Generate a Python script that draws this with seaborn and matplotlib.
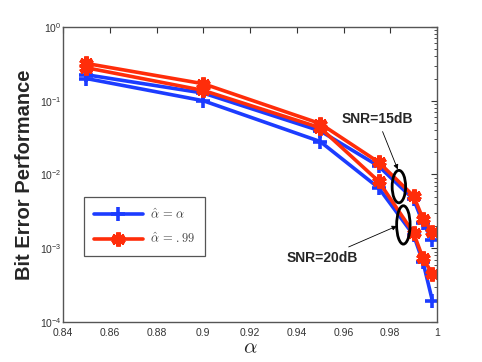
import numpy as np
import pandas as pd
import matplotlib
matplotlib.use('Agg')
import matplotlib.pyplot as plt
from matplotlib.patches import Ellipse
from matplotlib.font_manager import FontProperties
import seaborn as sns

# values
alpha = [0.85, 0.9, 0.95, 0.975, 0.99, 0.994, 0.998]
ber_blue_15 = [0.225, 0.127, 0.039, 0.013, 0.0046, 0.0022, 0.0013]
ber_blue_20 = [0.20, 0.10, 0.028, 0.0066, 0.0015, 0.00065, 0.000195]
ber_red_15 = [0.32, 0.17, 0.049, 0.0147, 0.0051, 0.0025, 0.00168]
ber_red_20 = [0.28, 0.138, 0.043, 0.0081, 0.0016, 0.00073, 0.00045]

labels = [r'$\hat{\alpha}\,=\,\alpha$', r'$\hat{\alpha}\,=\,{.}99$']
blue = '#1c3cff'
red = '#ff2d0a'

sns.set_style('white')
plt.rcParams['font.family'] = ['Liberation Sans', 'DejaVu Sans']
plt.rcParams['mathtext.fontset'] = 'custom'
plt.rcParams['mathtext.rm'] = 'Liberation Sans'
plt.rcParams['mathtext.it'] = 'Liberation Sans:italic'

fig = plt.figure(figsize=(4.82, 3.62), dpi=100)
ax = fig.add_axes([0.1307, 0.1105, 0.776, 0.815])

df = pd.DataFrame({'alpha': alpha, 'b15': ber_blue_15, 'b20': ber_blue_20,
                   'r15': ber_red_15, 'r20': ber_red_20})

blue_kw = dict(color=blue, lw=2.6, marker='+', markersize=10, mew=2.6,
               mec=blue, mfc=blue)
red_kw = dict(color=red, lw=2.6, marker=(6, 2, 0), markersize=10, mew=3.4,
              mec=red, mfc=red)

sns.lineplot(data=df, x='alpha', y='b15', ax=ax, label=labels[0], **blue_kw)
sns.lineplot(data=df, x='alpha', y='b20', ax=ax, **blue_kw)
sns.lineplot(data=df, x='alpha', y='r15', ax=ax, label=labels[1], **red_kw)
sns.lineplot(data=df, x='alpha', y='r20', ax=ax, **red_kw)

ax.set_yscale('log')
ax.set_xlim(0.84, 1.0)
ax.set_ylim(1e-4, 1)
ax.set_xticks(np.arange(0.84, 1.001, 0.02))
ax.set_xticklabels(['0.84', '0.86', '0.88', '0.9', '0.92', '0.94', '0.96', '0.98', '1'])
ax.tick_params(axis='both', which='both', direction='in', top=True, right=True,
               labelsize=7.5, colors='#333333')
ax.tick_params(axis='x', pad=4.5)
ax.tick_params(axis='y', pad=1)
ax.tick_params(which='major', length=4, width=0.8)
ax.tick_params(which='minor', length=2, width=0.6)
for s in ax.spines.values():
    s.set_color('#555555')
    s.set_linewidth(1.0)

ax.set_xlabel(r'$\alpha$', fontsize=15, math_fontfamily='cm', labelpad=0)
ax.set_ylabel('Bit Error Performance', fontsize=14.5, fontweight='bold', labelpad=4)

leg = ax.legend(loc='upper left', bbox_to_anchor=(0.056, 0.424), fancybox=False,
                edgecolor='#555555', framealpha=1, handlelength=3.9, labelspacing=0.85,
                handletextpad=0.6, borderpad=0.8, borderaxespad=0,
                prop=FontProperties(size=9, math_fontfamily='cm'))
leg.get_frame().set_linewidth(0.9)
for t in leg.get_texts():
    t.set_color('#444444')

# ellipses marking the SNR groups
ax.add_patch(Ellipse((0.898, 0.459), 0.036, 0.11, transform=ax.transAxes,
                     fill=False, ec='black', lw=2, zorder=5))
ax.add_patch(Ellipse((0.910, 0.329), 0.036, 0.13, transform=ax.transAxes,
                     fill=False, ec='black', lw=2, zorder=5))

ax.annotate('SNR=15dB', xy=(0.9832, 0.0117), xytext=(0.9745, 0.057),
            fontsize=10, fontweight='bold', ha='center', va='center',
            arrowprops=dict(arrowstyle='-|>', color='black', lw=0.6,
                            mutation_scale=7, shrinkA=2, shrinkB=0))
ax.annotate('SNR=20dB', xy=(0.9828, 0.002), xytext=(0.951, 0.00073),
            fontsize=10, fontweight='bold', ha='center', va='center',
            arrowprops=dict(arrowstyle='-|>', color='black', lw=0.6,
                            mutation_scale=7, shrinkA=2, shrinkB=0))

fig.savefig('out.png', dpi=100)
